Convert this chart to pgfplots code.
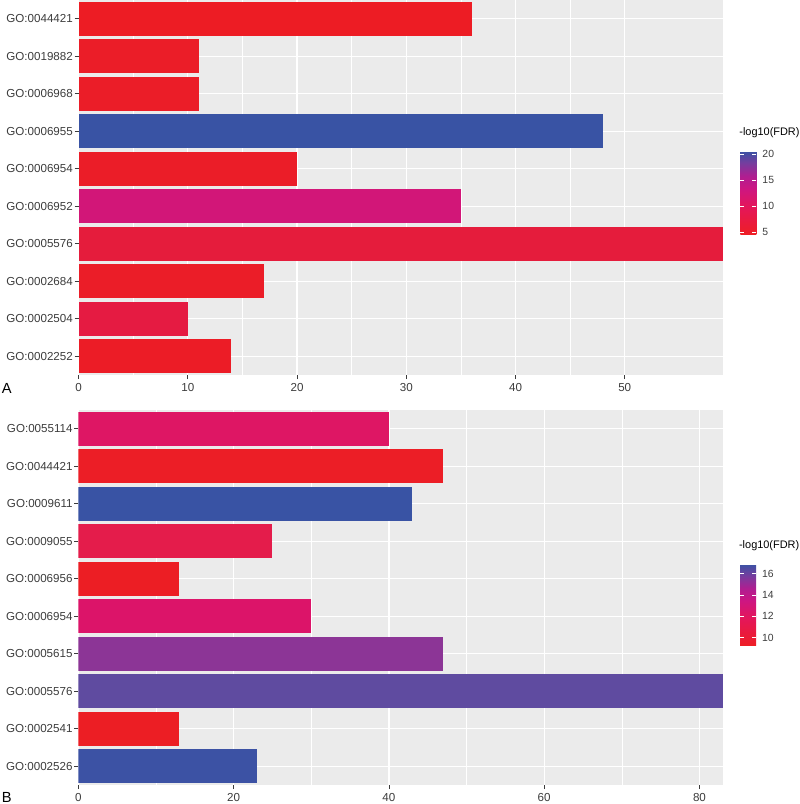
\documentclass[border=0pt]{standalone}
\usepackage{fontspec}
\setmainfont{Liberation Sans}
\usepackage{pgfplots}
\pgfplotsset{compat=1.18}

\definecolor{panelbg}{RGB}{235,235,235}
\definecolor{axtext}{RGB}{60,60,60}

\pgfplotsset{
  colormap={redblue}{rgb255(0pt)=(238,30,38) rgb255(33pt)=(228,22,90) rgb255(55pt)=(205,22,130)
    rgb255(70pt)=(175,30,145) rgb255(85pt)=(120,60,158) rgb255(100pt)=(58,83,164)},
  gopanel/.style={
    scale only axis, width=483.4pt, height=281.25pt,
    xmin=0, ymin=0.5, ymax=10.5,
    axis background/.style={fill=panelbg},
    axis line style={draw=none},
    xmajorgrids, xminorgrids, ymajorgrids,
    major grid style={white, line width=1pt},
    minor grid style={white, line width=0.5pt},
    minor x tick num=1, minor tick length=0pt,
    tick pos=left, tick align=outside, major tick length=3pt,
    tick style={axtext, line width=0.5pt},
    ytick={1,...,10},
    ticklabel style={font=\fontsize{8.7}{10}\selectfont, text=axtext},
    yticklabel style={xshift=2.25pt},
    /pgf/number format/assume math mode=true,
    colorbar, colormap name=redblue, colorbar/width=12pt,
  },
  cbar/.style={
    scale only axis,
    at={(parent axis.east)}, anchor=west, xshift=4.5pt,
    axis line style={draw=none},
    tick align=inside, major tick length=3pt,
    ytick style={white, line width=0.6pt},
    ytick pos=both, yticklabel pos=right,
    yticklabel style={font=\fontsize{7.8}{9}\selectfont, text=axtext, xshift=1pt},
    /pgf/number format/assume math mode=true,
    title={-log10(FDR)},
    title style={at={(0,1)}, anchor=south west, inner sep=0pt, xshift=-1pt, yshift=4pt,
      font=\fontsize{8.2}{9.5}\selectfont, text=black},
  },
  gobar/.style={xbar, bar width=0.9, bar shift=0pt, draw=none},
}

\begin{document}
\begin{tikzpicture}
\useasboundingbox (0,0) rectangle (600pt,-603pt);

% panel A
\begin{axis}[gopanel,
  at={(58.9pt,-281.25pt)}, anchor=south west,
  xmax=59, xtick={0,10,...,50},
  yticklabels={GO:0002252,GO:0002504,GO:0002684,GO:0005576,GO:0006952,
    GO:0006954,GO:0006955,GO:0006968,GO:0019882,GO:0044421},
  point meta min=4.6, point meta max=20.6,
  colorbar style={cbar, yshift=-3.75pt,
    height=62.25pt, ytick={5,10,15,20}},
]
\addplot[gobar, fill={rgb,255:red,236;green,28;blue,38}] coordinates {(14,1)};
\addplot[gobar, fill={rgb,255:red,229;green,27;blue,66}] coordinates {(10,2)};
\addplot[gobar, fill={rgb,255:red,235;green,29;blue,40}] coordinates {(17,3)};
\addplot[gobar, fill={rgb,255:red,229;green,28;blue,60}] coordinates {(59,4)};
\addplot[gobar, fill={rgb,255:red,210;green,22;blue,120}] coordinates {(35,5)};
\addplot[gobar, fill={rgb,255:red,235;green,29;blue,40}] coordinates {(20,6)};
\addplot[gobar, fill={rgb,255:red,57;green,83;blue,164}] coordinates {(48,7)};
\addplot[gobar, fill={rgb,255:red,235;green,29;blue,40}] coordinates {(11,8)};
\addplot[gobar, fill={rgb,255:red,235;green,29;blue,40}] coordinates {(11,9)};
\addplot[gobar, fill={rgb,255:red,237;green,28;blue,36}] coordinates {(36,10)};
\end{axis}

% panel B
\begin{axis}[gopanel,
  at={(58.7pt,-588.75pt)}, anchor=south west,
  xmax=83, xtick={0,20,...,80},
  yticklabels={GO:0002526,GO:0002541,GO:0005576,GO:0005615,GO:0006954,
    GO:0006956,GO:0009055,GO:0009611,GO:0044421,GO:0055114},
  point meta min=9.3, point meta max=16.9,
  colorbar style={cbar, yshift=-5.25pt,
    height=60.75pt, ytick={10,12,14,16}},
]
\addplot[gobar, fill={rgb,255:red,60;green,82;blue,164}] coordinates {(23,1)};
\addplot[gobar, fill={rgb,255:red,236;green,30;blue,36}] coordinates {(13,2)};
\addplot[gobar, fill={rgb,255:red,95;green,75;blue,160}] coordinates {(83,3)};
\addplot[gobar, fill={rgb,255:red,140;green,53;blue,150}] coordinates {(47,4)};
\addplot[gobar, fill={rgb,255:red,220;green,20;blue,105}] coordinates {(30,5)};
\addplot[gobar, fill={rgb,255:red,236;green,30;blue,36}] coordinates {(13,6)};
\addplot[gobar, fill={rgb,255:red,228;green,28;blue,75}] coordinates {(25,7)};
\addplot[gobar, fill={rgb,255:red,57;green,83;blue,164}] coordinates {(43,8)};
\addplot[gobar, fill={rgb,255:red,236;green,30;blue,38}] coordinates {(47,9)};
\addplot[gobar, fill={rgb,255:red,222;green,22;blue,100}] coordinates {(40,10)};
\end{axis}

\node[font=\fontsize{11}{13}\selectfont, inner sep=0pt] at (5pt,-291pt) {A};
\node[font=\fontsize{11}{13}\selectfont, inner sep=0pt, anchor=south] at (5pt,-602pt) {B};
\end{tikzpicture}
\end{document}
